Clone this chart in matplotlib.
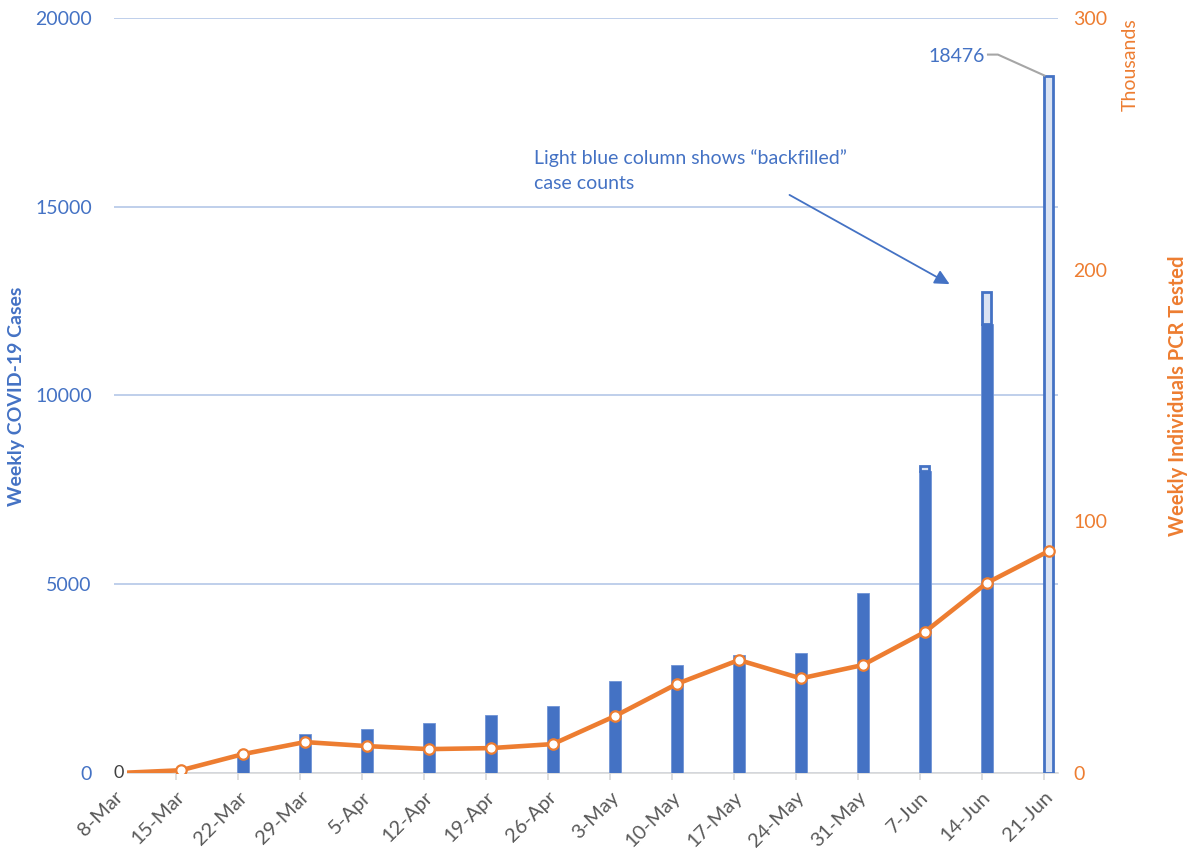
import matplotlib.pyplot as plt
import numpy as np

plt.rcParams['font.family'] = ['Lato', 'DejaVu Sans']

# weekly counts, week starting dates
weeks = ['8-Mar', '15-Mar', '22-Mar', '29-Mar', '5-Apr', '12-Apr', '19-Apr', '26-Apr',
         '3-May', '10-May', '17-May', '24-May', '31-May', '7-Jun', '14-Jun', '21-Jun']
cases = [0, 0, 550, 1030, 1165, 1325, 1535, 1775, 2435, 2860, 3125, 3170, 4770, 8000, 11900, 0]
backfilled = [0, 0, 0, 0, 0, 0, 0, 0, 0, 0, 0, 0, 0, 130, 850, 18476]
tested_k = [0, 1.1, 7.5, 12.3, 10.7, 9.5, 9.9, 11.5, 22.6, 35.4, 44.9, 37.6, 42.9, 56.0, 75.5, 88.2]

blue = '#4472C4'
light_blue = '#DAE3F3'
orange = '#ED7D31'
grid_col = '#B4C7E7'

x = np.arange(len(weeks))
cases = np.array(cases)
backfilled = np.array(backfilled)

fig = plt.figure(figsize=(11.88, 8.52), dpi=100)
ax = fig.add_axes([0.096, 0.0927, 0.7946, 0.8862])

ax.bar(x, cases, width=0.19, color=blue, edgecolor='#6F93D6', linewidth=0.6, zorder=3)
bf = backfilled > 0
ax.bar(x[bf], backfilled[bf], bottom=cases[bf], width=0.15, color=light_blue,
       edgecolor=blue, linewidth=2, zorder=3)

ax.set_xlim(-0.08, 15.15)
ax.set_ylim(0, 20000)
ax.set_yticks([0, 5000, 10000, 15000, 20000])
ax.yaxis.grid(True, color=grid_col, linewidth=1.2, zorder=0)
ax.set_axisbelow(True)
for s in ['top', 'right', 'left']:
    ax.spines[s].set_visible(False)
ax.spines['bottom'].set_color('#D9D9D9')
ax.spines['bottom'].set_linewidth(1.2)
ax.tick_params(axis='y', length=0, labelcolor=blue, labelsize=14, pad=16)
ax.set_xticks(x - 0.08)
ax.set_xticklabels(weeks, rotation=45, ha='right', rotation_mode='anchor',
                   color='#595959', fontsize=14.5)
ax.tick_params(axis='x', length=5, color='#D9D9D9', width=1.2, pad=6)
fig.text(17 / 1188, 1 - 396 / 852, 'Weekly COVID-19 Cases', rotation=90, color=blue,
         fontsize=14, fontweight='bold', ha='center', va='center')

ax2 = ax.twinx()
ax2.plot(x, tested_k, color=orange, linewidth=3.3, zorder=4)
ax2.plot(x[1:], tested_k[1:], 'o', markersize=7.5, markerfacecolor='white',
         markeredgecolor=orange, markeredgewidth=1.6, zorder=5)
ax2.set_ylim(0, 300)
ax2.set_yticks([0, 100, 200, 300])
for s in ax2.spines.values():
    s.set_visible(False)
ax2.tick_params(axis='y', length=0, labelcolor=orange, labelsize=14, pad=11)
fig.text(1178 / 1188, 1 - 396 / 852, 'Weekly Individuals PCR Tested', rotation=90,
         color=orange, fontsize=14.5, fontweight='bold', ha='center', va='center')
fig.text(1130 / 1188, 1 - 18 / 852, 'Thousands', rotation=90, color=orange, fontsize=14,
         ha='center', va='top')

# zero label on the first week
ax2.text(x[0], 0, '0', color='#404040', fontsize=13, ha='center', va='center',
         bbox=dict(facecolor='white', edgecolor='none', pad=2), zorder=6)

# label for the last column with leader line
total_last = cases[-1] + backfilled[-1]
ax.text(13.97, 18970, str(total_last), color=blue, fontsize=14, ha='right', va='center',
        bbox=dict(facecolor='white', edgecolor='none', pad=2), zorder=6)
ax.plot([14.02, 14.18, x[-1] - 0.07], [19030, 19030, total_last],
        color='#A6A6A6', linewidth=1.5, zorder=6, clip_on=False)

ax.annotate('Light blue column shows \u201cbackfilled\u201d\ncase counts',
            xy=(13.4, 12950), xytext=(6.7, 15950), color=blue, fontsize=14,
            ha='left', va='center', linespacing=1.55,
            arrowprops=dict(arrowstyle='-|>', color=blue, linewidth=1.3,
                            mutation_scale=22, shrinkA=0, shrinkB=0,
                            relpos=(0.69, 0.45)),
            zorder=6)

fig.savefig('out.png', dpi=100)
